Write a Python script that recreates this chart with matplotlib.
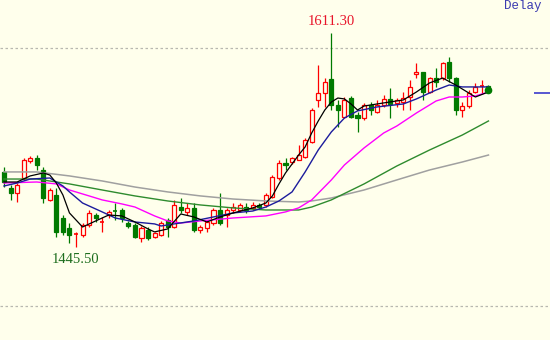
import matplotlib
matplotlib.use('Agg')
import matplotlib.pyplot as plt
import numpy as np
from matplotlib.patches import Rectangle

# daily candles: open, high, low, close
opens = [1503.9, 1491.5, 1487.6, 1499.2, 1512.4, 1514.7, 1505.4, 1482.2, 1486.0, 1468.2,
         1460.5, 1455.8, 1455.0, 1462.8, 1470.5, 1464.3, 1470.5, 1473.6, 1474.4, 1464.3,
         1462.8, 1452.7, 1458.9, 1453.5, 1455.0, 1466.7, 1461.2, 1476.7, 1472.9, 1476.0,
         1458.9, 1460.5, 1464.3, 1474.4, 1470.5, 1474.4, 1474.4, 1476.7, 1476.0, 1478.3,
         1478.3, 1484.5, 1499.2, 1510.8, 1511.6, 1513.2, 1515.5, 1527.1, 1559.7, 1565.1,
         1576.0, 1555.8, 1546.5, 1561.2, 1548.1, 1545.7, 1555.8, 1550.4, 1555.8, 1560.5,
         1557.4, 1558.1, 1562.0, 1579.8, 1581.4, 1565.9, 1576.7, 1576.7, 1589.1, 1576.7,
         1551.9, 1555.0, 1565.9, 1569.8, 1570.5]
highs = [1507.7, 1493.8, 1495.3, 1514.7, 1516.3, 1517.0, 1507.7, 1491.5, 1491.5, 1470.5,
         1464.3, 1457.4, 1464.3, 1474.4, 1472.1, 1469.0, 1474.4, 1479.8, 1476.0, 1465.9,
         1464.3, 1462.0, 1461.2, 1457.4, 1465.9, 1468.2, 1482.2, 1483.7, 1479.8, 1479.8,
         1462.8, 1466.7, 1476.0, 1487.6, 1476.0, 1479.8, 1479.8, 1479.8, 1480.6, 1479.8,
         1487.6, 1501.5, 1513.2, 1514.7, 1515.5, 1524.8, 1530.2, 1553.5, 1586.8, 1576.7,
         1611.3, 1559.7, 1562.0, 1562.8, 1550.4, 1557.4, 1558.1, 1559.7, 1563.6, 1569.0,
         1561.2, 1565.9, 1575.2, 1588.4, 1581.4, 1577.5, 1584.5, 1589.1, 1593.0, 1577.5,
         1558.1, 1567.4, 1572.9, 1575.2, 1571.3]
lows = [1492.2, 1482.2, 1480.6, 1497.7, 1510.8, 1505.4, 1479.8, 1481.4, 1453.5, 1455.0,
        1448.8, 1445.5, 1453.5, 1461.2, 1465.1, 1457.4, 1468.2, 1466.7, 1465.1, 1460.5,
        1452.7, 1449.6, 1451.2, 1452.7, 1454.3, 1453.5, 1460.5, 1472.1, 1470.5, 1457.4,
        1456.6, 1457.4, 1462.8, 1462.8, 1461.2, 1472.1, 1472.9, 1472.1, 1474.4, 1475.2,
        1476.7, 1483.7, 1497.7, 1505.4, 1510.1, 1513.2, 1514.7, 1526.4, 1554.3, 1554.3,
        1551.9, 1538.8, 1545.7, 1545.7, 1534.9, 1544.2, 1548.1, 1549.6, 1554.3, 1545.7,
        1554.3, 1551.9, 1551.9, 1576.7, 1559.7, 1565.1, 1569.8, 1575.2, 1573.6, 1548.1,
        1546.5, 1553.5, 1565.1, 1565.1, 1566.7]
closes = [1496.1, 1487.6, 1493.8, 1513.2, 1514.7, 1509.3, 1483.7, 1489.9, 1457.4, 1457.4,
          1455.0, 1456.2, 1462.8, 1472.1, 1468.2, 1465.1, 1472.9, 1472.9, 1468.2, 1462.0,
          1453.5, 1460.5, 1452.7, 1456.6, 1464.3, 1461.2, 1478.3, 1474.4, 1476.0, 1458.9,
          1461.2, 1465.1, 1474.4, 1464.3, 1474.4, 1476.7, 1478.3, 1474.4, 1478.3, 1476.7,
          1486.0, 1500.0, 1510.8, 1509.3, 1514.7, 1517.0, 1528.7, 1551.9, 1565.1, 1573.6,
          1555.8, 1551.9, 1559.7, 1546.5, 1545.7, 1555.8, 1551.9, 1555.8, 1560.5, 1556.6,
          1559.7, 1561.2, 1569.8, 1581.4, 1565.9, 1576.7, 1573.6, 1588.4, 1576.7, 1551.9,
          1555.0, 1565.1, 1569.8, 1570.5, 1567.4]

# moving averages, sampled at candle indices
ma5_idx = [0, 2, 4, 6, 7, 8, 9, 10, 12, 14, 16, 18, 20, 22, 23, 25, 27, 29, 31, 33, 35, 38,
           40, 41, 42, 43, 45, 46, 47, 48, 49, 50, 51, 52, 53, 54, 55, 58, 61, 63, 65, 67,
           69, 71, 72, 74]
ma5 = [1496.1, 1496.1, 1500.8, 1503.1, 1501.5, 1495.3, 1486.0, 1472.1, 1461.2, 1465.9,
       1470.5, 1469.8, 1465.1, 1459.7, 1457.4, 1459.7, 1471.3, 1469.0, 1465.1, 1469.0,
       1472.1, 1476.0, 1479.8, 1485.3, 1494.6, 1503.1, 1517.0, 1523.3, 1534.1, 1543.4,
       1551.9, 1558.1, 1561.2, 1560.5, 1556.6, 1551.9, 1555.0, 1557.4, 1559.7, 1565.9,
       1572.9, 1576.7, 1571.3, 1565.1, 1562.0, 1565.9]
ma10_idx = [0, 2, 4, 7, 9, 10, 12, 15, 17, 20, 23, 24, 26, 29, 32, 35, 38, 40, 42, 44, 46,
            48, 50, 52, 54, 57, 61, 63, 66, 68, 70, 74]
ma10 = [1493.0, 1495.3, 1498.4, 1499.2, 1493.0, 1488.4, 1479.8, 1472.9, 1468.2, 1465.1,
        1463.6, 1462.0, 1463.6, 1465.9, 1469.0, 1472.1, 1473.6, 1476.7, 1481.4, 1488.4,
        1503.9, 1520.9, 1534.9, 1545.7, 1551.2, 1554.3, 1556.6, 1560.5, 1567.4, 1571.3,
        1569.8, 1569.8]
ma20_idx = [0, 5, 8, 10, 13, 15, 18, 20, 23, 25, 27, 30, 35, 40, 43, 45, 47, 50, 52, 55,
            58, 60, 63, 66, 68, 70, 72, 74]
ma20 = [1495.3, 1496.1, 1494.6, 1489.9, 1485.3, 1482.2, 1479.1, 1476.7, 1469.8, 1465.9,
        1464.3, 1465.9, 1468.2, 1469.8, 1472.9, 1476.0, 1482.2, 1497.7, 1509.3, 1522.5,
        1534.1, 1539.5, 1549.6, 1558.9, 1562.0, 1562.0, 1562.8, 1565.9]
slow_idx = [0, 5, 10, 15, 20, 25, 30, 35, 40, 45, 47, 50, 55, 60, 65, 70, 74]
ma40 = [1498.4, 1498.4, 1494.6, 1489.9, 1485.3, 1481.4, 1478.3, 1476.0, 1474.4, 1474.4,
        1476.7, 1482.2, 1494.6, 1508.5, 1520.9, 1532.5, 1543.4]
ma60 = [1503.9, 1503.9, 1500.8, 1496.9, 1492.2, 1488.4, 1485.3, 1482.9, 1481.4, 1480.6,
        1481.4, 1483.7, 1489.9, 1497.7, 1505.4, 1511.6, 1517.0]

grid_levels = [1400, 1600]

BG = '#ffffec'
UP = '#ff0000'
DOWN = '#007a00'

fig = plt.figure(figsize=(5.5, 3.4), dpi=100, facecolor=BG)
ax = fig.add_axes([0, 0, 1, 1], facecolor=BG)

for lvl in grid_levels:
    ax.axhline(lvl, color='#b8b8b0', lw=0.9, ls=(0, (2, 2)), zorder=0)

w = 0.62
for i, (o, h, l, c) in enumerate(zip(opens, highs, lows, closes)):
    up = c >= o
    col = UP if up else DOWN
    ax.vlines(i, l, h, color=col, lw=0.9, zorder=2)
    lo, hi = min(o, c), max(o, c)
    if hi - lo < 0.8:
        ax.hlines((o + c) / 2, i - w / 2, i + w / 2, color=col, lw=1.2, zorder=3)
    else:
        ax.add_patch(Rectangle((i - w / 2, lo), w, hi - lo, facecolor=BG if up else col,
                               edgecolor=col, lw=0.9, zorder=3))

ax.plot(slow_idx, ma60, color='#a0a0a0', lw=1.1, zorder=4)
ax.plot(slow_idx, ma40, color='#2e8b2e', lw=1.0, zorder=4)
ax.plot(ma20_idx, ma20, color='#ff00ff', lw=1.0, zorder=4)
ax.plot(ma10_idx, ma10, color='#1c1c9c', lw=1.0, zorder=5)
ax.plot(ma5_idx, ma5, color='#000000', lw=0.9, zorder=5)

# last close dot + price marker
n = len(closes)
ax.plot(n - 1, closes[-1], 'o', color=DOWN, ms=4.5, zorder=6)
ax.hlines(closes[-1] - 2.5, n + 5.9, n + 9.5, color='#3b3bcc', lw=1.2)

imax = int(np.argmax(highs))
imin = int(np.argmin(lows))
ax.annotate(f'{highs[imax]:.2f}', (imax, highs[imax]), xytext=(0, 4), textcoords='offset points',
            ha='center', va='bottom', color='#e8142a', fontsize=10.5, family='Liberation Serif')
ax.annotate(f'{lows[imin]:.2f}', (imin, lows[imin]), xytext=(0, -4), textcoords='offset points',
            ha='center', va='top', color='#1e6e1e', fontsize=10.5, family='Liberation Serif')

fig.text(0.985, 1.0, 'Delay', ha='right', va='top', color='#3b3bb0', fontsize=9,
         family='Liberation Mono')

ax.set_xlim(-0.61, 83.4)
ax.set_ylim(1373.6, 1637.2)
ax.axis('off')

fig.savefig('out.png', dpi=100, facecolor=BG)
